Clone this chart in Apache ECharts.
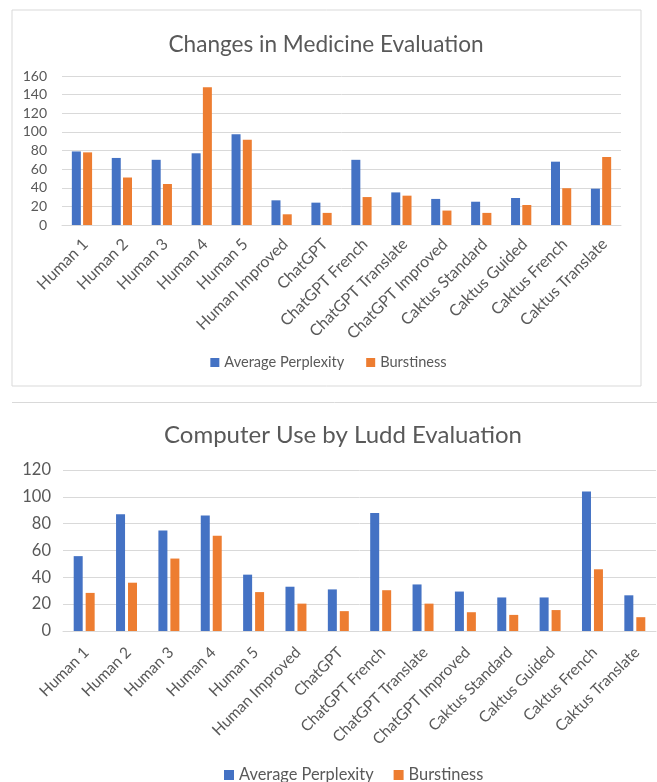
<!DOCTYPE html>
<html>
<head>
<meta charset="utf-8">
<script src="https://cdn.jsdelivr.net/npm/echarts@6/dist/echarts.min.js"></script>
<style>
  html, body { margin: 0; padding: 0; background: #fff; }
  #main { width: 657px; height: 782px; }
</style>
</head>
<body>
<div id="main"></div>
<script>
// categories shared by both charts
var categories = ['Human 1', 'Human 2', 'Human 3', 'Human 4', 'Human 5', 'Human Improved', 'ChatGPT',
  'ChatGPT French', 'ChatGPT Translate', 'ChatGPT Improved', 'Caktus Standard', 'Caktus Guided',
  'Caktus French', 'Caktus Translate'];

// Changes in Medicine Evaluation
var medPerplexity = [79, 72, 70, 77, 97.5, 26.5, 24, 70, 35, 28, 25, 29, 68, 39];
var medBurstiness = [78, 51, 44, 148, 91.5, 11.5, 13, 30, 31.5, 15.5, 13, 21.5, 39.5, 73];

// Computer Use by Ludd Evaluation
var luddPerplexity = [55.8, 87, 75, 86, 42, 33, 31, 88, 34.7, 29.4, 25, 25, 104, 26.6];
var luddBurstiness = [28.4, 36, 54, 71, 29, 20.4, 14.8, 30.4, 20.4, 14, 12, 15.6, 46, 10.3];

var seriesNames = ['Average Perplexity', 'Burstiness'];
var blue = '#4472C4', orange = '#ED7D31';
var txt = '#595959', grid = '#d9d9d9';
var font = 'Lato';

var chart = echarts.init(document.getElementById('main'));

function xAx(idx, size, margin, shift) {
  return {
    type: 'category', gridIndex: idx, data: categories,
    axisLine: { lineStyle: { color: grid } },
    axisTick: { show: false },
    axisLabel: { rotate: 45, interval: 0, color: txt, fontFamily: font, fontSize: size,
      margin: margin, padding: [0, -shift, 0, 0] }
  };
}
function yAx(idx, max, size, margin) {
  return {
    type: 'value', gridIndex: idx, min: 0, max: max, interval: 20,
    axisLine: { show: false }, axisTick: { show: false },
    splitLine: { lineStyle: { color: grid } },
    axisLabel: { color: txt, fontFamily: font, fontSize: size, margin: margin }
  };
}
function bar(name, idx, data, color, gap) {
  return {
    name: name, type: 'bar', xAxisIndex: idx, yAxisIndex: idx, data: data,
    barWidth: 9, barGap: gap, itemStyle: { color: color }, silent: true
  };
}

chart.setOption({
  animation: false,
  color: [blue, orange],
  title: [
    { text: 'Changes in Medicine Evaluation', left: 321, top: 28, textAlign: 'center',
      textStyle: { color: txt, fontFamily: font, fontSize: 22.6, fontWeight: 'normal' } },
    { text: 'Computer Use by Ludd Evaluation', left: 338, top: 418, textAlign: 'center',
      textStyle: { color: txt, fontFamily: font, fontSize: 24, fontWeight: 'normal' } }
  ],
  legend: [
    { data: seriesNames, left: 'center', top: 350, itemWidth: 9, itemHeight: 9, itemGap: 22,
      icon: 'rect', textStyle: { color: txt, fontFamily: font, fontSize: 14.6 } },
    { data: seriesNames, left: 219, top: 762, itemWidth: 10, itemHeight: 10, itemGap: 20,
      icon: 'rect', textStyle: { color: txt, fontFamily: font, fontSize: 16.4 } }
  ],
  grid: [
    { left: 62, top: 76, width: 559, height: 149 },
    { left: 63, top: 470, width: 593, height: 161 }
  ],
  xAxis: [xAx(0, 16, 20, 5), xAx(1, 15.5, 21, 3)],
  yAxis: [yAx(0, 160, 14, 15), yAx(1, 120, 16.5, 12)],
  series: [
    bar(seriesNames[0], 0, medPerplexity, blue, '25%'),
    bar(seriesNames[1], 0, medBurstiness, orange, '25%'),
    bar(seriesNames[0], 1, luddPerplexity, blue, '33%'),
    bar(seriesNames[1], 1, luddBurstiness, orange, '33%')
  ],
  graphic: [
    { type: 'rect', shape: { x: 12, y: 10, width: 629, height: 376 }, silent: true,
      style: { fill: 'none', stroke: grid, lineWidth: 1 } },
    { type: 'line', shape: { x1: 12, y1: 402.5, x2: 657, y2: 402.5 }, silent: true,
      style: { stroke: grid, lineWidth: 1 } }
  ]
});
</script>
</body>
</html>
